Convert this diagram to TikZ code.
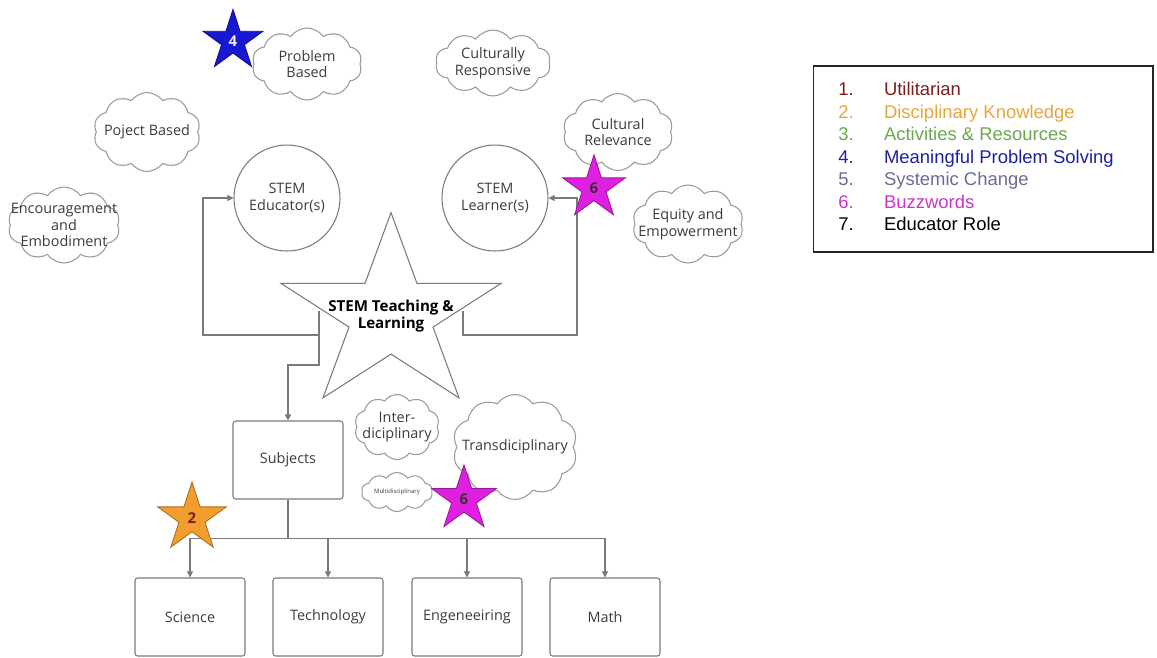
\documentclass[tikz,border=0pt]{standalone}
\usepackage{fontspec}
\setmainfont{Open Sans}
\newfontfamily\legendfont{Liberation Sans}
\usetikzlibrary{arrows.meta, shapes.geometric, shapes.symbols}

\definecolor{linegray}{HTML}{7A7A7A}
\definecolor{cloudgray}{HTML}{9A9A9A}
\definecolor{txtgray}{HTML}{3C3C3C}
\definecolor{starblue}{HTML}{1818D2}
\definecolor{starpink}{HTML}{E020E0}
\definecolor{starorange}{HTML}{F29E2E}
\definecolor{keyone}{HTML}{7A1E1E}
\definecolor{keytwo}{HTML}{E8A53A}
\definecolor{keythree}{HTML}{6AA84F}
\definecolor{keyfour}{HTML}{1F1FA5}
\definecolor{keyfive}{HTML}{6B6B95}
\definecolor{keysix}{HTML}{CC33CC}

\begin{document}
\begin{tikzpicture}[
  x=0.02cm, y=-0.02cm,
  every node/.style={font=\fontsize{8.2}{9.5}\selectfont, text=txtgray, align=center},
  box/.style={draw=linegray, line width=.6pt, rounded corners=1.5pt, minimum width=2.2cm, minimum height=1.56cm},
  role/.style={circle, draw=linegray, line width=.6pt, minimum size=2.12cm},
  bubble/.style={cloud, cloud puffs=10, cloud puff arc=110, cloud ignores aspect, draw=cloudgray, line width=.6pt, fill=white, inner sep=0pt},
  badge/.style={star, star points=5, star point ratio=2.62, inner sep=0pt, line width=.5pt, font=\fontsize{8.5}{9}\selectfont\bfseries},
  arrow/.style={-{Triangle[length=3.5pt,width=3.5pt]}, draw=linegray, line width=.6pt}
]
\useasboundingbox (0,0) rectangle (1157,657);

% Clouds
\node[bubble, minimum width=2.2cm, minimum height=1.44cm, label={center:Problem\\Based}] (prob) at (307,64) {};
\node[bubble, minimum width=2.3cm, minimum height=1.32cm, label={center:Culturally\\Responsive}] (cult) at (493,63) {};
\node[bubble, minimum width=2.14cm, minimum height=1.58cm, label={center:Poject Based}] (proj) at (147,132) {};
\node[bubble, minimum width=2.24cm, minimum height=1.52cm, label={center:Encouragement\\and\\Embodiment}] (enc) at (64,225) {};
\node[bubble, minimum width=2.2cm, minimum height=1.54cm, label={center:Cultural\\Relevance}] (rel) at (618,132) {};
\node[bubble, minimum width=2.22cm, minimum height=1.56cm, label={center:Equity and\\Empowerment}] (eq) at (688,224) {};
\node[bubble, minimum width=1.7cm, minimum height=1.3cm, label={center:Inter-\\diciplinary}] (inter) at (397,427) {};
\node[bubble, minimum width=2.5cm, minimum height=2.1cm, label={center:Transdiciplinary}] (trans) at (515,447) {};
\node[bubble, minimum width=1.42cm, minimum height=0.78cm, label={[font=\fontsize{3.4}{4}\selectfont]center:Multidisciplinary}] (multi) at (397,492) {};

% Roles
\node[role, font=\fontsize{8.2}{10}\selectfont] (edu) at (287,198) {STEM\\Educator(s)};
\node[role, font=\fontsize{8.2}{10}\selectfont] (lrn) at (495,198) {STEM\\Learner(s)};

% Centre star
\begin{scope}[shift={(391,315)}, yscale=.885, transform shape]
  \node[star, star points=5, star point ratio=2.62, minimum size=4.63cm, inner sep=0pt, draw=linegray, line width=.6pt, fill=white] (tl) {};
\end{scope}
\node[font=\fontsize{8.6}{9.3}\selectfont\bfseries, text=black] (tltext) at (391,316) {STEM Teaching \&\\Learning};
\coordinate (tlW) at (319,311);
\coordinate (tlE) at (463,311);

% Subjects
\node[box] (sub) at (288,460) {Subjects};
\node[box] (sci) at (190,617) {Science};
\node[box] (tec) at (328,617) {Technology};
\node[box] (eng) at (467,617) {Engeneeiring};
\node[box] (mat) at (605,617) {Math};

% Arrows
\draw[arrow] (tlW) |- (203,335) |- (edu.west);
\draw[arrow] (tlE) |- (577,335) |- (lrn.east);
\draw[arrow] (tlW) |- (288,365) -- (sub.north);
\foreach \s in {sci,tec,eng,mat}
  \draw[arrow] (sub.south) -- ++(0,39) -| (\s.north);

% Theme stars
\node[badge, fill=starblue, draw=starblue!70!black, minimum size=1.26cm, text=white!85!gray] (four) at (233,41) {4};
\node[badge, fill=starpink, draw=starpink!70!black, minimum size=1.32cm, text=black!80] (sixtop) at (594,188) {6};
\node[badge, fill=starpink, draw=starpink!70!black, minimum size=1.36cm, text=black!80] (sixlow) at (464,499) {6};
\node[badge, fill=starorange, draw=starorange!70!black, minimum size=1.44cm, text=keyone] (two) at (192,518) {2};

% Legend
\node[draw=black!85, line width=.6pt, minimum width=6.8cm, minimum height=3.72cm] (legend) at (983,159) {};
\node[anchor=north west, inner sep=0pt, align=left, text=black, font=\legendfont\fontsize{10.5}{12.8}\selectfont] (keys) at (838,82) {%
  \textcolor{keyone}{\makebox[26pt][l]{1.}Utilitarian}\\
  \textcolor{keytwo}{\makebox[26pt][l]{2.}Disciplinary Knowledge}\\
  \textcolor{keythree}{\makebox[26pt][l]{3.}Activities \& Resources}\\
  \textcolor{keyfour}{\makebox[26pt][l]{4.}Meaningful Problem Solving}\\
  \textcolor{keyfive}{\makebox[26pt][l]{5.}Systemic Change}\\
  \textcolor{keysix}{\makebox[26pt][l]{6.}Buzzwords}\\
  \makebox[26pt][l]{7.}Educator Role};

\end{tikzpicture}
\end{document}
